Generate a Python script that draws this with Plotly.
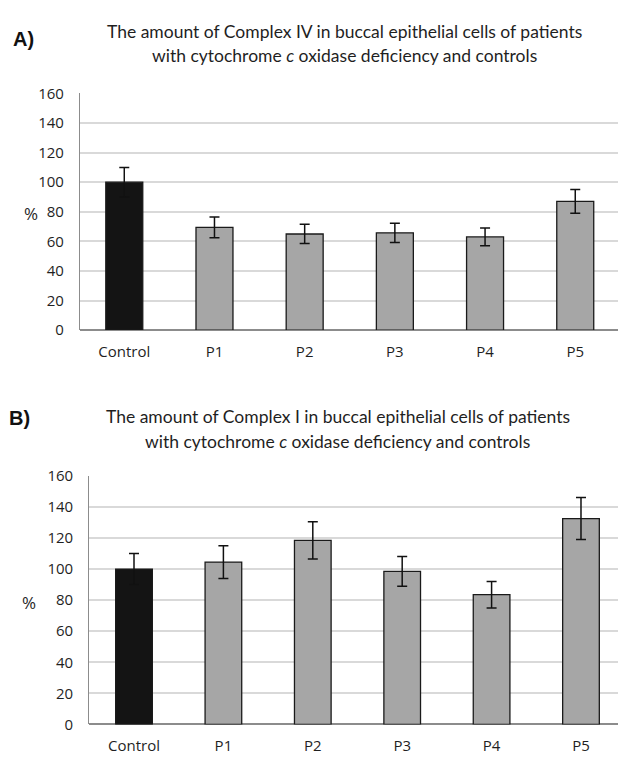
import plotly.graph_objects as go

# Category labels shared by both panels
categories = ["Control", "P1", "P2", "P3", "P4", "P5"]

# Panel A: Complex IV (% of control) with error bars
complex_iv = [100, 69.5, 65, 65.8, 63, 87]
complex_iv_err = [10, 7, 6.5, 6.5, 6, 8]

# Panel B: Complex I (% of control) with error bars
complex_i = [100, 104.5, 118.5, 98.5, 83.5, 132.5]
complex_i_err = [10, 10.5, 12, 9.5, 8.5, 13.5]

y_ticks = [0, 20, 40, 60, 80, 100, 120, 140, 160]

bar_colors = ["#141414"] + ["#a6a6a6"] * 5
W, H = 618, 763

fig = go.Figure()


def add_panel(values, errors, xa, ya):
    fig.add_trace(go.Bar(
        x=list(range(len(categories))), y=values,
        width=0.41,
        marker=dict(color=bar_colors, line=dict(color="#1a1a1a", width=1.3)),
        error_y=dict(type="data", array=errors, visible=True,
                     color="#111111", thickness=1.5, width=5),
        xaxis=xa, yaxis=ya, showlegend=False, hoverinfo="skip",
    ))


add_panel(complex_iv, complex_iv_err, "x", "y")
add_panel(complex_i, complex_i_err, "x2", "y2")

tick_font = dict(family="Open Sans, DejaVu Sans", size=15, color="#1f1f1f")
grid = dict(showgrid=True, gridcolor="#d9d9d9", gridwidth=1.5)


def xaxis_cfg(domain, rng):
    return dict(domain=domain, range=rng, tickmode="array",
                tickvals=list(range(len(categories))), ticktext=categories,
                tickfont=tick_font, showgrid=False, zeroline=False,
                showline=False, ticks="", ticklabelstandoff=11, fixedrange=True)


def yaxis_cfg(domain, anchor):
    return dict(domain=domain, range=[0, 160], tickmode="array",
                tickvals=y_ticks, ticktext=[str(v) for v in y_ticks],
                tickfont=tick_font, zeroline=True, zerolinecolor="#8c8c8c",
                zerolinewidth=1.5, showline=True, linecolor="#8c8c8c",
                linewidth=1.2, ticks="", anchor=anchor, ticklabelstandoff=12,
                fixedrange=True, **grid)


fig.update_layout(
    width=W, height=H,
    margin=dict(l=0, r=0, t=0, b=0),
    paper_bgcolor="white", plot_bgcolor="white",
    bargap=0.5,
    xaxis=xaxis_cfg([80 / W, 1.0], [-0.491, 5.474]),
    yaxis=yaxis_cfg([(H - 327.7) / H, (H - 84.7) / H], "x"),
    xaxis2=xaxis_cfg([89.3 / W, 1.0], [-0.5, 5.414]),
    yaxis2=yaxis_cfg([(H - 732.7) / H, (H - 477.3) / H], "x2"),
)
fig.update_layout(xaxis2=dict(anchor="y2"))

title_font = dict(family="Lato, Open Sans", size=17.5, color="#1f1f1f")


def px_x(px):
    return px / W


def px_y(px):
    return 1 - px / H


annotations = [
    dict(text="<b>A)</b>", x=px_x(11), y=px_y(29), xanchor="left", yanchor="middle",
         font=dict(family="Liberation Sans, Arial", size=20, color="#111111")),
    dict(text="The amount of Complex IV in buccal epithelial cells of patients",
         x=px_x(344), y=px_y(21), xanchor="center", yanchor="middle", font=title_font),
    dict(text="with cytochrome <i>c</i> oxidase deficiency and controls",
         x=px_x(344), y=px_y(46), xanchor="center", yanchor="middle", font=title_font),
    dict(text="%", x=px_x(31), y=px_y(208), xanchor="center", yanchor="middle",
         font=dict(family="Open Sans, DejaVu Sans", size=17, color="#1f1f1f")),
    dict(text="<b>B)</b>", x=px_x(7), y=px_y(418), xanchor="left", yanchor="middle",
         font=dict(family="Liberation Sans, Arial", size=20, color="#111111")),
    dict(text="The amount of Complex I in buccal epithelial cells of patients",
         x=px_x(338), y=px_y(416), xanchor="center", yanchor="middle", font=title_font),
    dict(text="with cytochrome <i>c</i> oxidase deficiency and controls",
         x=px_x(337), y=px_y(442), xanchor="center", yanchor="middle", font=title_font),
    dict(text="%", x=px_x(29), y=px_y(607), xanchor="center", yanchor="middle",
         font=dict(family="Open Sans, DejaVu Sans", size=17, color="#1f1f1f")),
]
for a in annotations:
    a.update(xref="paper", yref="paper", showarrow=False)
fig.update_layout(annotations=annotations)

fig.write_html("out.html")
